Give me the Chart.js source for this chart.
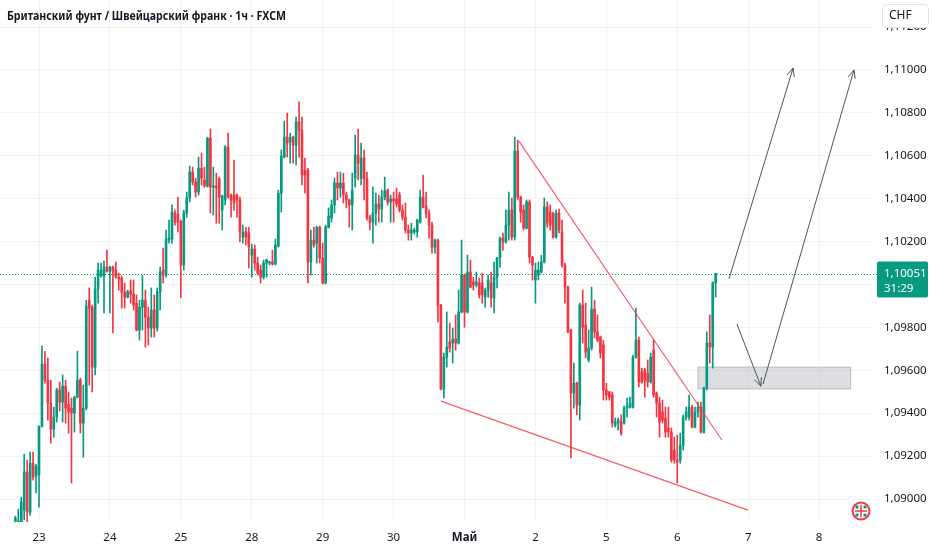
<!DOCTYPE html>
<html lang="ru">
<head>
<meta charset="utf-8">
<title>GBPCHF 1ч</title>
<script src="https://cdn.jsdelivr.net/npm/chart.js@4.4.1/dist/chart.umd.min.js"></script>
<style>
  html, body { margin: 0; padding: 0; background: #ffffff; }
  #wrap { width: 932px; height: 550px; }
</style>
</head>
<body>
<div id="wrap"><canvas id="chart" width="932" height="550"></canvas></div>
<script>
// TIME: hours counted from 23 Apr 00:00 (trading hours only)
const firstHour = -8;
const dayLabels = ["23", "24", "25", "28", "29", "30", "Май", "2", "5", "6", "7", "8"];
const dayStarts = [0, 24, 48, 72, 96, 120, 144, 168, 192, 216, 240, 264];
const priceTicks = [1.090, 1.092, 1.094, 1.096, 1.098, 1.100, 1.102, 1.104, 1.106, 1.108, 1.110, 1.112];

// CANDLES (one per hour)
const opens = [
  1.08897, 1.08888, 1.08893, 1.08948, 1.09126, 1.08939, 1.09167, 1.09107,
  1.09112, 1.09340, 1.09629, 1.09554, 1.09447, 1.09326, 1.09382, 1.09508, 1.09452, 1.09526,
  1.09442, 1.09424, 1.09401, 1.09475, 1.09554, 1.09354, 1.09424, 1.09927, 1.09894, 1.09615,
  1.09979, 1.10039, 1.10039, 1.10081, 1.10062, 1.10081, 1.10067, 1.10034, 1.10030, 1.09965,
  1.09941, 1.09969, 1.09955, 1.09913, 1.09788, 1.09894, 1.09927, 1.09848, 1.09797, 1.09881,
  1.09797, 1.09965, 1.10067, 1.10044, 1.10207, 1.10212, 1.10333, 1.10328, 1.10295, 1.10091,
  1.10333, 1.10403, 1.10524, 1.10478, 1.10431, 1.10542, 1.10487, 1.10459, 1.10682, 1.10454,
  1.10459, 1.10492, 1.10347, 1.10394, 1.10641, 1.10417, 1.10417, 1.10417, 1.10394, 1.10221,
  1.10245, 1.10240, 1.10137, 1.10165, 1.10100, 1.10067, 1.10034, 1.10100, 1.10100, 1.10105,
  1.10095, 1.10179, 1.10426, 1.10594, 1.10687, 1.10664, 1.10687, 1.10650, 1.10758, 1.10720,
  1.10533, 1.10533, 1.10105, 1.10207, 1.10193, 1.10267, 1.10123, 1.10007, 1.10267, 1.10310,
  1.10371, 1.10473, 1.10450, 1.10473, 1.10417, 1.10394, 1.10371, 1.10496, 1.10604, 1.10496,
  1.10590, 1.10492, 1.10314, 1.10291, 1.10333, 1.10375, 1.10352, 1.10407, 1.10440, 1.10385,
  1.10399, 1.10399, 1.10417, 1.10347, 1.10314, 1.10254, 1.10240, 1.10245, 1.10245, 1.10291,
  1.10407, 1.10366, 1.10333, 1.10277, 1.10174, 1.10207, 1.09904, 1.09512, 1.09661, 1.09732,
  1.09727, 1.09746, 1.09727, 1.09872, 1.10044, 1.09872, 1.10058, 1.10012, 1.09998, 1.10007,
  1.10007, 1.09941, 1.09974, 1.10007, 1.09937, 1.10034, 1.10123, 1.10216, 1.10198, 1.10277,
  1.10347, 1.10221, 1.10622, 1.10407, 1.10347, 1.10263, 1.10385, 1.10127, 1.10021, 1.10044,
  1.10058, 1.10105, 1.10361, 1.10338, 1.10333, 1.10221, 1.10333, 1.10245, 1.10091, 1.09988,
  1.09788, 1.09494, 1.09540, 1.09438, 1.09904, 1.09811, 1.09648, 1.09704, 1.09885, 1.09779,
  1.09755, 1.09718, 1.09508, 1.09499, 1.09485, 1.09345, 1.09354, 1.09359, 1.09354, 1.09424,
  1.09428, 1.09428, 1.09661, 1.09741, 1.09592, 1.09601, 1.09587, 1.09545, 1.09694, 1.09494,
  1.09447, 1.09406, 1.09378, 1.09331, 1.09312, 1.09228, 1.09181, 1.09181, 1.09251, 1.09382,
  1.09382, 1.09428, 1.09335, 1.09406, 1.09428, 1.09312, 1.09517, 1.09727, 1.09708, 1.10007,
];
const highs = [
  1.08920, 1.08953, 1.09009, 1.09209, 1.09181, 1.09219, 1.09219, 1.09162,
  1.09340, 1.09713, 1.09689, 1.09657, 1.09554, 1.09428, 1.09517, 1.09545, 1.09578, 1.09554,
  1.09499, 1.09471, 1.09480, 1.09689, 1.09564, 1.09531, 1.09927, 1.09984, 1.09904, 1.10034,
  1.10100, 1.10100, 1.10109, 1.10160, 1.10086, 1.10086, 1.10105, 1.10053, 1.10039, 1.10007,
  1.09974, 1.10021, 1.10021, 1.09951, 1.09927, 1.10044, 1.09974, 1.09894, 1.09984, 1.09951,
  1.09984, 1.10081, 1.10170, 1.10254, 1.10300, 1.10371, 1.10347, 1.10407, 1.10300, 1.10347,
  1.10431, 1.10552, 1.10547, 1.10496, 1.10594, 1.10613, 1.10547, 1.10687, 1.10725, 1.10547,
  1.10519, 1.10501, 1.10417, 1.10646, 1.10706, 1.10421, 1.10580, 1.10421, 1.10407, 1.10277,
  1.10267, 1.10267, 1.10188, 1.10184, 1.10127, 1.10091, 1.10114, 1.10119, 1.10109, 1.10160,
  1.10212, 1.10440, 1.10627, 1.10762, 1.10799, 1.10706, 1.10692, 1.10780, 1.10851, 1.10780,
  1.10589, 1.10542, 1.10254, 1.10267, 1.10272, 1.10272, 1.10193, 1.10277, 1.10357, 1.10394,
  1.10496, 1.10524, 1.10524, 1.10519, 1.10431, 1.10399, 1.10519, 1.10697, 1.10725, 1.10659,
  1.10627, 1.10524, 1.10324, 1.10454, 1.10426, 1.10417, 1.10440, 1.10501, 1.10445, 1.10417,
  1.10431, 1.10449, 1.10431, 1.10371, 1.10380, 1.10277, 1.10286, 1.10263, 1.10305, 1.10440,
  1.10510, 1.10431, 1.10347, 1.10291, 1.10212, 1.10212, 1.09908, 1.09680, 1.09872, 1.09820,
  1.09797, 1.09858, 1.09974, 1.10207, 1.10049, 1.10137, 1.10114, 1.10034, 1.10058, 1.10030,
  1.10053, 1.09984, 1.10044, 1.10058, 1.10105, 1.10127, 1.10221, 1.10240, 1.10347, 1.10431,
  1.10403, 1.10687, 1.10673, 1.10412, 1.10371, 1.10394, 1.10394, 1.10132, 1.10100, 1.10105,
  1.10137, 1.10403, 1.10385, 1.10371, 1.10338, 1.10347, 1.10352, 1.10300, 1.10100, 1.09993,
  1.09792, 1.09634, 1.09545, 1.09913, 1.09974, 1.09913, 1.09788, 1.09988, 1.09927, 1.09858,
  1.09760, 1.09741, 1.09540, 1.09503, 1.09499, 1.09378, 1.09378, 1.09392, 1.09433, 1.09471,
  1.09475, 1.09671, 1.09890, 1.09755, 1.09610, 1.09610, 1.09648, 1.09680, 1.09741, 1.09499,
  1.09475, 1.09461, 1.09428, 1.09428, 1.09331, 1.09288, 1.09298, 1.09307, 1.09392, 1.09428,
  1.09485, 1.09438, 1.09428, 1.09452, 1.09452, 1.09522, 1.09779, 1.09858, 1.10012, 1.10053,
];
const lows = [
  1.08888, 1.08883, 1.08883, 1.08902, 1.08888, 1.08925, 1.09088, 1.09028,
  1.08962, 1.09335, 1.09540, 1.09368, 1.09261, 1.09288, 1.09359, 1.09410, 1.09359, 1.09354,
  1.09307, 1.09074, 1.09312, 1.09471, 1.09307, 1.09195, 1.09415, 1.09531, 1.09499, 1.09578,
  1.09913, 1.10034, 1.09867, 1.10058, 1.09867, 1.09774, 1.10030, 1.09974, 1.09890, 1.09890,
  1.09937, 1.09913, 1.09881, 1.09783, 1.09741, 1.09788, 1.09708, 1.09718, 1.09755, 1.09755,
  1.09783, 1.09881, 1.10007, 1.10034, 1.10193, 1.10193, 1.10277, 1.10245, 1.09937, 1.10067,
  1.10314, 1.10385, 1.10464, 1.10407, 1.10417, 1.10464, 1.10454, 1.10454, 1.10333, 1.10324,
  1.10286, 1.10286, 1.10254, 1.10371, 1.10403, 1.10314, 1.10347, 1.10314, 1.10198, 1.10193,
  1.10184, 1.10077, 1.10034, 1.10067, 1.10044, 1.10007, 1.10025, 1.10034, 1.10091, 1.10091,
  1.10091, 1.10174, 1.10338, 1.10590, 1.10594, 1.10566, 1.10566, 1.10557, 1.10594, 1.10464,
  1.10426, 1.10007, 1.10044, 1.10174, 1.10100, 1.10100, 1.10002, 1.10002, 1.10263, 1.10291,
  1.10333, 1.10394, 1.10407, 1.10380, 1.10357, 1.10267, 1.10254, 1.10454, 1.10487, 1.10464,
  1.10394, 1.10300, 1.10254, 1.10193, 1.10277, 1.10291, 1.10291, 1.10394, 1.10371, 1.10291,
  1.10291, 1.10361, 1.10338, 1.10300, 1.10240, 1.10207, 1.10207, 1.10235, 1.10221, 1.10286,
  1.10357, 1.10310, 1.10216, 1.10146, 1.10146, 1.09825, 1.09508, 1.09471, 1.09615, 1.09685,
  1.09634, 1.09694, 1.09722, 1.09867, 1.09801, 1.09867, 1.09984, 1.09974, 1.09988, 1.09937,
  1.09913, 1.09894, 1.09941, 1.09894, 1.09867, 1.09984, 1.10081, 1.10160, 1.10193, 1.10207,
  1.10207, 1.10207, 1.10394, 1.10291, 1.10254, 1.10259, 1.10100, 1.10021, 1.09913, 1.10021,
  1.10053, 1.10100, 1.10267, 1.10254, 1.10216, 1.10216, 1.10240, 1.10081, 1.09913, 1.09774,
  1.09191, 1.09424, 1.09392, 1.09368, 1.09727, 1.09657, 1.09639, 1.09694, 1.09751, 1.09732,
  1.09657, 1.09461, 1.09461, 1.09461, 1.09335, 1.09335, 1.09321, 1.09298, 1.09349, 1.09382,
  1.09424, 1.09424, 1.09657, 1.09522, 1.09540, 1.09475, 1.09522, 1.09540, 1.09475, 1.09382,
  1.09288, 1.09354, 1.09288, 1.09288, 1.09172, 1.09167, 1.09074, 1.09167, 1.09228, 1.09368,
  1.09368, 1.09331, 1.09331, 1.09382, 1.09307, 1.09307, 1.09508, 1.09634, 1.09610, 1.09941,
];
const closes = [
  1.08911, 1.08897, 1.08986, 1.09126, 1.08939, 1.09167, 1.09102, 1.09153,
  1.09340, 1.09629, 1.09554, 1.09447, 1.09326, 1.09382, 1.09508, 1.09452, 1.09526, 1.09424,
  1.09406, 1.09401, 1.09475, 1.09554, 1.09354, 1.09424, 1.09899, 1.09890, 1.09615, 1.09979,
  1.10067, 1.10067, 1.10081, 1.10062, 1.10081, 1.10062, 1.10034, 1.10025, 1.09965, 1.09941,
  1.09965, 1.09955, 1.09904, 1.09788, 1.09894, 1.09927, 1.09848, 1.09797, 1.09881, 1.09797,
  1.09965, 1.10058, 1.10044, 1.10212, 1.10216, 1.10338, 1.10291, 1.10291, 1.10091, 1.10333,
  1.10403, 1.10524, 1.10478, 1.10431, 1.10542, 1.10496, 1.10459, 1.10682, 1.10454, 1.10459,
  1.10450, 1.10407, 1.10412, 1.10641, 1.10407, 1.10394, 1.10380, 1.10394, 1.10245, 1.10245,
  1.10221, 1.10174, 1.10165, 1.10100, 1.10053, 1.10034, 1.10100, 1.10114, 1.10105, 1.10095,
  1.10184, 1.10426, 1.10599, 1.10687, 1.10659, 1.10687, 1.10650, 1.10758, 1.10720, 1.10510,
  1.10510, 1.10105, 1.10207, 1.10184, 1.10267, 1.10123, 1.10007, 1.10267, 1.10319, 1.10371,
  1.10473, 1.10450, 1.10473, 1.10417, 1.10394, 1.10371, 1.10440, 1.10604, 1.10566, 1.10590,
  1.10492, 1.10310, 1.10291, 1.10333, 1.10375, 1.10352, 1.10407, 1.10435, 1.10385, 1.10399,
  1.10389, 1.10375, 1.10347, 1.10314, 1.10254, 1.10240, 1.10254, 1.10254, 1.10300, 1.10407,
  1.10361, 1.10333, 1.10277, 1.10174, 1.10207, 1.09904, 1.09512, 1.09661, 1.09708, 1.09704,
  1.09746, 1.09727, 1.09872, 1.10044, 1.09872, 1.10058, 1.09988, 1.09998, 1.10012, 1.09951,
  1.09951, 1.09974, 1.10021, 1.09937, 1.10034, 1.10123, 1.10216, 1.10198, 1.10277, 1.10347,
  1.10221, 1.10622, 1.10407, 1.10338, 1.10263, 1.10385, 1.10127, 1.10091, 1.10067, 1.10067,
  1.10105, 1.10361, 1.10286, 1.10277, 1.10221, 1.10333, 1.10254, 1.10091, 1.09988, 1.09779,
  1.09494, 1.09540, 1.09438, 1.09904, 1.09801, 1.09685, 1.09704, 1.09885, 1.09779, 1.09741,
  1.09680, 1.09508, 1.09485, 1.09475, 1.09354, 1.09359, 1.09368, 1.09307, 1.09424, 1.09433,
  1.09447, 1.09661, 1.09741, 1.09545, 1.09545, 1.09554, 1.09545, 1.09661, 1.09485, 1.09447,
  1.09359, 1.09368, 1.09312, 1.09312, 1.09181, 1.09181, 1.09172, 1.09251, 1.09382, 1.09406,
  1.09428, 1.09335, 1.09406, 1.09428, 1.09312, 1.09517, 1.09727, 1.09708, 1.10007, 1.10051,
];

const lastPrice = 1.10051;
const countdown = "31:29";

// DRAWINGS, as [hour, price]
const upperTrend = [[162.4, 1.10668], [231.1, 1.09275]];
const lowerTrend = [[136.0, 1.09456], [239.9, 1.08948]];
const zone = [[223.0, 1.09615], [274.7, 1.09513]];
const arrows = [
  [[233.5, 1.10026], [255.2, 1.11009]],
  [[236.2, 1.09815], [244.3, 1.09526]],
  [[245.0, 1.09535], [275.8, 1.11000]],
];

const UP = "#089981";
const DOWN = "#f23645";
const TEXT = "#131722";
const GRID = "rgba(42, 46, 57, 0.06)";
const FONT = '"Noto Sans", "Open Sans", sans-serif';
const TITLE = "Британский фунт / Швейцарский франк · 1ч · FXCM";

const candleColors = opens.map((o, i) => (closes[i] >= o ? UP : DOWN));
const bodies = opens.map((o, i) => ({ x: firstHour + i, y: [o, closes[i]] }));
const wicks = lows.map((l, i) => ({ x: firstHour + i, y: [l, highs[i]] }));

function line(ctx, x, y, p1, p2) {
  ctx.beginPath();
  ctx.moveTo(x.getPixelForValue(p1[0]), y.getPixelForValue(p1[1]));
  ctx.lineTo(x.getPixelForValue(p2[0]), y.getPixelForValue(p2[1]));
  ctx.stroke();
}

function arrow(ctx, x, y, p1, p2) {
  const x1 = x.getPixelForValue(p1[0]), y1 = y.getPixelForValue(p1[1]);
  const x2 = x.getPixelForValue(p2[0]), y2 = y.getPixelForValue(p2[1]);
  const a = Math.atan2(y2 - y1, x2 - x1);
  ctx.beginPath();
  ctx.moveTo(x1, y1);
  ctx.lineTo(x2, y2);
  ctx.moveTo(x2 - 9 * Math.cos(a - 0.42), y2 - 9 * Math.sin(a - 0.42));
  ctx.lineTo(x2, y2);
  ctx.lineTo(x2 - 9 * Math.cos(a + 0.42), y2 - 9 * Math.sin(a + 0.42));
  ctx.stroke();
}

const overlay = {
  id: "overlay",
  beforeDatasetsDraw(chart) {
    const { ctx, chartArea: a, scales: { x, y } } = chart;
    ctx.save();
    // zone
    const zx1 = x.getPixelForValue(zone[0][0]), zy1 = y.getPixelForValue(zone[0][1]);
    const zx2 = x.getPixelForValue(zone[1][0]), zy2 = y.getPixelForValue(zone[1][1]);
    ctx.fillStyle = "rgba(149, 152, 161, 0.32)";
    ctx.fillRect(zx1, zy1, zx2 - zx1, zy2 - zy1);
    ctx.strokeStyle = "rgba(149, 152, 161, 0.55)";
    ctx.lineWidth = 1;
    ctx.strokeRect(zx1, zy1, zx2 - zx1, zy2 - zy1);
    // last price line
    const py = Math.round(y.getPixelForValue(lastPrice)) + 0.5;
    ctx.setLineDash([1, 2]);
    ctx.strokeStyle = UP;
    ctx.beginPath();
    ctx.moveTo(a.left, py);
    ctx.lineTo(a.right + 5, py);
    ctx.stroke();
    ctx.restore();
  },
  afterDatasetsDraw(chart) {
    const { ctx, chartArea: a, scales: { x, y } } = chart;
    ctx.save();
    ctx.beginPath();
    ctx.rect(a.left, a.top, a.width, a.height);
    ctx.clip();
    ctx.lineWidth = 1.2;
    ctx.strokeStyle = "rgba(242, 54, 69, 0.8)";
    line(ctx, x, y, upperTrend[0], upperTrend[1]);
    line(ctx, x, y, lowerTrend[0], lowerTrend[1]);
    ctx.lineWidth = 1;
    ctx.strokeStyle = "#50535e";
    arrows.forEach((p) => arrow(ctx, x, y, p[0], p[1]));
    ctx.restore();
  },
  afterDraw(chart) {
    const { ctx, chartArea: a, scales: { y } } = chart;
    ctx.save();
    // title: full-height letters, narrowed to the width it has in the original
    ctx.fillStyle = TEXT;
    ctx.textBaseline = "middle";
    ctx.textAlign = "left";
    ctx.font = "bold 13px " + FONT;
    const tw = ctx.measureText(TITLE).width;
    ctx.save();
    ctx.translate(7, 16);
    ctx.scale(279 / tw, 1);
    ctx.fillText(TITLE, 0, 0);
    ctx.restore();

    // currency button
    ctx.beginPath();
    ctx.roundRect(882.5, 4.5, 46, 23, 4);
    ctx.fillStyle = "#ffffff";
    ctx.fill();
    ctx.strokeStyle = "#e0e3eb";
    ctx.stroke();
    ctx.fillStyle = TEXT;
    ctx.font = "12px " + FONT;
    ctx.fillText("CHF", 889, 16);

    // last price tag
    const py = y.getPixelForValue(lastPrice);
    ctx.beginPath();
    ctx.roundRect(a.right + 5, py - 12, 51, 36, 2);
    ctx.fillStyle = UP;
    ctx.fill();
    ctx.fillStyle = "#ffffff";
    ctx.font = "11.5px " + FONT;
    ctx.fillText(lastPrice.toFixed(5).replace(".", ","), a.right + 12, py);
    ctx.fillText(countdown, a.right + 12, py + 15);

    // flag icon
    const cx = 861, cy = 511;
    ctx.beginPath();
    ctx.arc(cx, cy, 8.5, 0, Math.PI * 2);
    ctx.fillStyle = "#ffffff";
    ctx.fill();
    ctx.lineWidth = 2;
    ctx.strokeStyle = DOWN;
    ctx.stroke();
    ctx.fillStyle = UP;
    [[-1, -1], [1, -1], [-1, 1], [1, 1]].forEach(([sx, sy]) => {
      ctx.fillRect(cx + sx * 2.5 - (sx < 0 ? 3 : 0), cy + sy * 2.5 - (sy < 0 ? 3 : 0), 3, 3);
    });
    ctx.lineWidth = 1.5;
    ctx.beginPath();
    ctx.moveTo(cx - 6, cy); ctx.lineTo(cx + 6, cy);
    ctx.moveTo(cx, cy - 6); ctx.lineTo(cx, cy + 6);
    ctx.stroke();
    ctx.restore();
  },
};

new Chart(document.getElementById("chart"), {
  type: "bar",
  data: {
    datasets: [
      {
        label: "body",
        data: bodies,
        backgroundColor: candleColors,
        barThickness: 2,
        minBarLength: 1,
        grouped: false,
        borderWidth: 0,
      },
      {
        label: "wick",
        data: wicks,
        backgroundColor: candleColors,
        barThickness: 1,
        grouped: false,
        borderWidth: 0,
      },
    ],
  },
  options: {
    responsive: false,
    animation: false,
    events: [],
    layout: { padding: 0 },
    plugins: { legend: { display: false }, tooltip: { enabled: false } },
    scales: {
      x: {
        type: "linear",
        min: -13.2,
        max: 281.9,
        offset: false,
        border: { display: false },
        grid: { color: GRID, offset: false, drawTicks: false },
        afterBuildTicks: (s) => { s.ticks = dayStarts.map((v) => ({ value: v })); },
        afterFit: (s) => {
          s.height = 28;
          s.paddingLeft = 0;
          s.paddingRight = 0;
        },
        ticks: {
          autoSkip: false,
          maxRotation: 0,
          padding: 9,
          color: TEXT,
          font: (c) => ({
            family: FONT,
            size: 11.5,
            weight: c.index === dayLabels.indexOf("Май") ? "bold" : "normal",
          }),
          callback: (v, i) => dayLabels[i],
        },
      },
      y: {
        position: "right",
        min: 1.088928,
        max: 1.113263,
        border: { display: false },
        grid: { color: GRID, drawTicks: false },
        afterBuildTicks: (s) => { s.ticks = priceTicks.map((v) => ({ value: v })); },
        afterFit: (s) => {
          s.width = 60;
          s.paddingTop = 0;
          s.paddingBottom = 0;
        },
        ticks: {
          padding: 12,
          color: TEXT,
          font: { family: FONT, size: 11.5 },
          callback: (v) => v.toFixed(5).replace(".", ","),
        },
      },
    },
  },
  plugins: [overlay],
});
</script>
</body>
</html>
